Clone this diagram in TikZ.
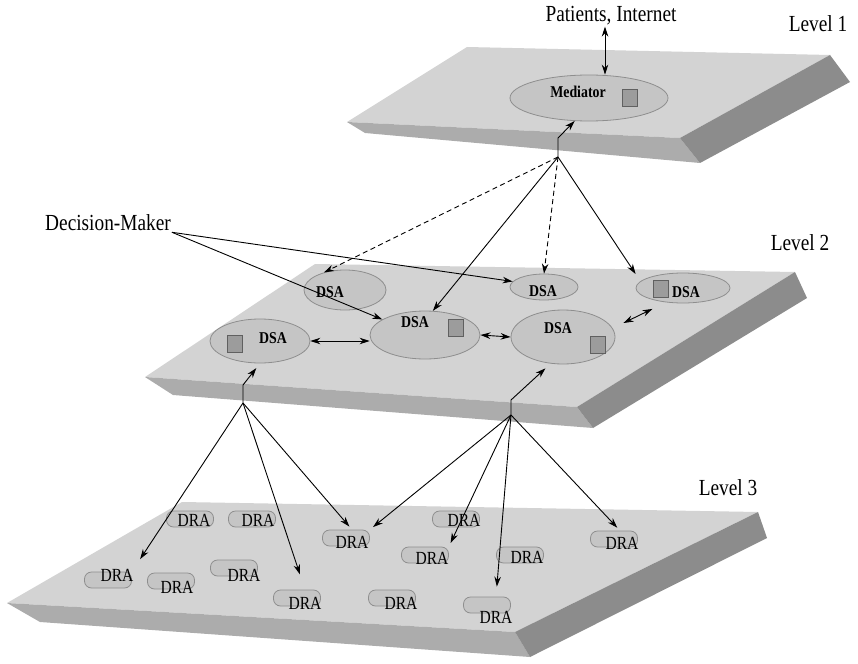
\documentclass[tikz,border=0pt]{standalone}
\usepackage{fontspec}
\setmainfont{Liberation Serif}[FakeStretch=0.84]
\usetikzlibrary{arrows.meta,shapes.geometric}

\definecolor{slabtop}{HTML}{D3D3D3}
\definecolor{slabfront}{HTML}{ACACAC}
\definecolor{slabside}{HTML}{8C8C8C}
\definecolor{agentfill}{HTML}{C5C5C5}
\definecolor{agentline}{HTML}{8E8E8E}
\definecolor{boxfill}{HTML}{9C9C9C}

\tikzset{
  agent/.style={ellipse,fill=agentfill,draw=agentline,line width=.8pt,inner sep=0pt},
  cube/.style={fill=boxfill,draw=gray!75!black,line width=.4pt,minimum width=15pt,minimum height=17pt,inner sep=0pt},
  drabox/.style={rounded corners=7pt,fill=agentfill,draw=agentline,line width=.8pt,minimum width=47pt,minimum height=16pt,inner sep=0pt},
  dsatext/.style={font=\bfseries\fontsize{16.5}{18}\selectfont,inner sep=0pt},
  dratext/.style={font=\fontsize{18.5}{20}\selectfont,inner sep=0pt},
  lvl/.style={font=\fontsize{23}{25}\selectfont,inner sep=1pt},
  arr/.style={-{Stealth[length=10pt,width=6.5pt]},line width=.9pt},
  darr/.style={{Stealth[length=10pt,width=6.5pt]}-{Stealth[length=10pt,width=6.5pt]},line width=.9pt},
  dsh/.style={dash pattern=on 5pt off 3.5pt}
}

\begin{document}
\begin{tikzpicture}[x=1pt,y=-1pt]
\useasboundingbox (0,0) rectangle (858,663);
% slabs
\fill[slabtop] (467,47) -- (830,55) -- (680,138) -- (347,122) -- cycle;
\fill[slabfront] (347,122) -- (680,138) -- (700,163) -- (365,133) -- cycle;
\fill[slabside] (680,138) -- (830,55) -- (850,82) -- (700,163) -- cycle;
\fill[slabtop] (315,264) -- (795,272) -- (577,407) -- (145,377) -- cycle;
\fill[slabfront] (145,377) -- (577,407) -- (593,428) -- (173,395) -- cycle;
\fill[slabside] (577,407) -- (795,272) -- (807,298) -- (593,428) -- cycle;
\fill[slabtop] (182,502) -- (758,512) -- (515,632) -- (7,603) -- cycle;
\fill[slabfront] (7,603) -- (515,632) -- (530,657) -- (40,622) -- cycle;
\fill[slabside] (515,632) -- (758,512) -- (767,538) -- (530,657) -- cycle;

% mediator and DSAs
\node[agent,minimum width=158pt,minimum height=46pt] (med) at (589,98) {};
\node[agent,minimum width=82pt,minimum height=40pt] (dsaTL) at (345,290) {};
\node[agent,minimum width=68pt,minimum height=26pt] (dsaTM) at (544,287) {};
\node[agent,minimum width=94pt,minimum height=30pt] (dsaTR) at (683,288) {};
\node[agent,minimum width=100pt,minimum height=44pt] (dsaL) at (260,341) {};
\node[agent,minimum width=110pt,minimum height=48pt] (dsaC) at (425,335) {};
\node[agent,minimum width=104pt,minimum height=54pt] (dsaR) at (563,337) {};
\foreach \n/\x/\y in {m/629.5/97.5,l/235/343.5,c/456/328,r/597.5/344.5,tr/660.5/288.5}
  \node[cube] (sq\n) at (\x,\y) {};
\node[dsatext] (tmed) at (578,92) {Mediator};
\node[dsatext] (tTL) at (330,292) {DSA};
\node[dsatext] (tTM) at (543,291) {DSA};
\node[dsatext] (tTR) at (686,292) {DSA};
\node[dsatext] (tL) at (273,338) {DSA};
\node[dsatext] (tC) at (415,322) {DSA};
\node[dsatext] (tR) at (558,328) {DSA};

% DRAs
\foreach \n/\x/\y/\tx/\ty in {1/190/519/194/520,2/252/519/258/520,3/346/538/352/542,4/456/519/464/520,5/425/555/432/558,6/520/555/527/557,7/614/539/622/543,8/234/568/244/575,9/171/581/177/587,10/297/598/305/603,11/392/598/401/603,12/487/605/496/617,13/108/580/117/575}{
  \node[drabox] (dra\n) at (\x,\y) {};
  \node[dratext] (drat\n) at (\tx,\ty) {DRA};
}

% labels
\node[lvl] (pat) at (611,16) {Patients, Internet};
\node[lvl] (dm) at (108,223) {Decision-Maker};
\node[lvl] (lv1) at (818,24) {Level 1};
\node[lvl] (lv2) at (800,243) {Level 2};
\node[lvl] (lv3) at (728,488) {Level 3};

% level 1 links
\draw[darr] ([xshift=-6pt]pat.south) -- ([xshift=16pt]med.north);
\coordinate (mj) at (558,157);
\draw[arr] (mj) -- ++(0,-19) -- (med.-122);
\draw[arr,dsh] (mj) -- (dsaTL.140);
\draw[arr] (mj) -- (dsaC.72);
\draw[arr,dsh] (mj) -- (dsaTM.north);
\draw[arr] (mj) -- ([yshift=14pt]dsaTR.west);
\draw[arr] (dm.south east) -- (dsaTM.170);
\draw[arr] (dm.south east) -- (dsaC.160);

% level 2 links
\draw[darr] (dsaL.east) -- (dsaL.east -| dsaC.west);
\draw[darr] (dsaC.east) -- (dsaR.west);
\draw[darr,shorten <=12pt,shorten >=15pt] (dsaR.10) -- (dsaTR.220);
\coordinate (lj) at (243,403);
\coordinate (rj) at (511,415);
\draw[arr,shorten >=6pt] (lj) -- ++(0,-18) -- (dsaL.south);
\draw[arr,shorten >=7pt] (rj) -- ++(0,-15) -- (dsaR.245);

% level 3 links
\draw[arr,shorten >=15pt] (lj) -- (dra13.north east);
\draw[arr,shorten >=16pt] (lj) -- ([xshift=8pt]dra10.north);
\draw[arr,shorten >=4pt] (lj) -- ([xshift=6pt]dra3.north);
\draw[arr,shorten >=4pt] (rj) -- (dra3.north east);
\draw[arr,shorten >=4pt] (rj) -- (dra5.north east);
\draw[arr,shorten >=10pt] (rj) -- ([xshift=9pt]dra12.north);
\draw[arr,shorten >=4pt] (rj) -- ([xshift=6pt]dra7.north);
\end{tikzpicture}
\end{document}
